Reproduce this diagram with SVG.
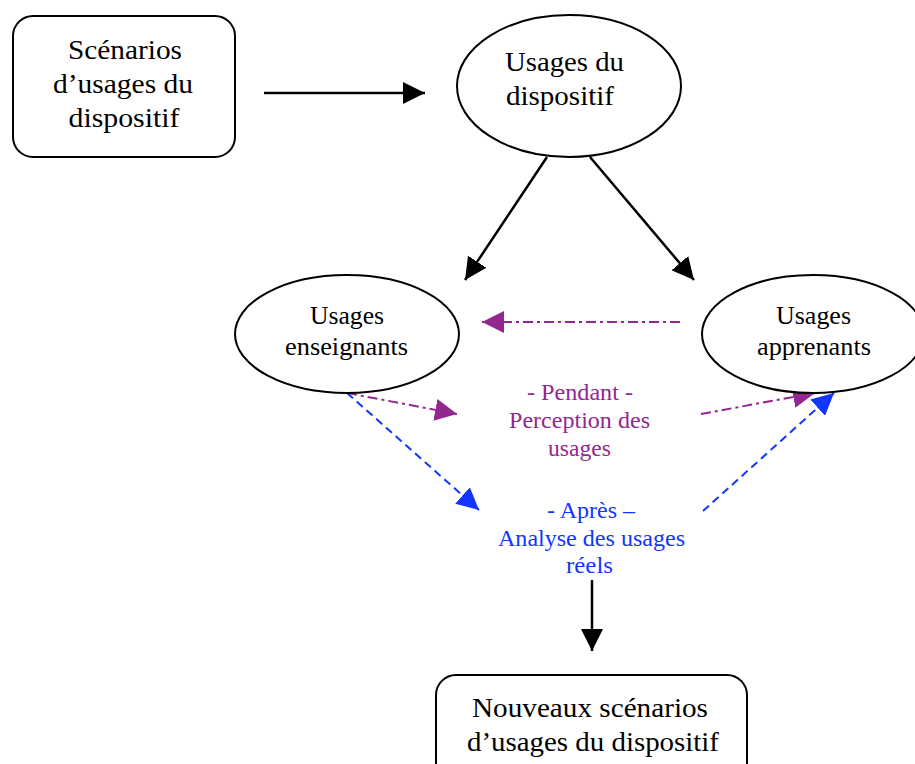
<svg xmlns="http://www.w3.org/2000/svg" width="915" height="764" viewBox="0 0 915 764">
<style>
.shape{fill:#fff;stroke:#000;stroke-width:2}
.t{font-family:"Liberation Serif","Times New Roman",serif;text-anchor:middle;fill:#000}
.big{font-size:28px}
.mid{font-size:27px}
.sm{font-size:25px}
.lab{font-size:23px}
.p{fill:#92278F}
.b{fill:#1236FF}
.blk{stroke:#000;stroke-width:2.5;fill:none}
.pur{stroke:#92278F;stroke-width:2;fill:none;stroke-dasharray:10,4,3,4}
.blu{stroke:#1236FF;stroke-width:2;fill:none;stroke-dasharray:8,5}
</style>
<defs>
<marker id="abk" viewBox="0 0 10 10" refX="10" refY="5" markerWidth="22" markerHeight="22" markerUnits="userSpaceOnUse" orient="auto"><path d="M0,0 L10,5 L0,10 z" fill="#000"/></marker>
<marker id="ap" viewBox="0 0 10 10" refX="10" refY="5" markerWidth="22" markerHeight="22" markerUnits="userSpaceOnUse" orient="auto"><path d="M0,0 L10,5 L0,10 z" fill="#92278F"/></marker>
<marker id="abl" viewBox="0 0 10 10" refX="10" refY="5" markerWidth="22" markerHeight="22" markerUnits="userSpaceOnUse" orient="auto"><path d="M0,0 L10,5 L0,10 z" fill="#1236FF"/></marker>
</defs>
<g id="connectors">
<line class="blk" x1="264" y1="93" x2="425" y2="93" marker-end="url(#abk)"/>
<line class="blk" x1="547" y1="157" x2="465" y2="280" marker-end="url(#abk)"/>
<line class="blk" x1="590" y1="157" x2="694" y2="280" marker-end="url(#abk)"/>
<line class="pur" x1="680" y1="322" x2="482" y2="322" marker-end="url(#ap)"/>
<line class="pur" x1="347" y1="393" x2="457" y2="414" marker-end="url(#ap)"/>
<line class="pur" x1="701" y1="414" x2="815" y2="393" marker-end="url(#ap)"/>
<line class="blu" x1="347" y1="393" x2="479" y2="510" marker-end="url(#abl)"/>
<line class="blu" x1="703" y1="511" x2="834" y2="393" marker-end="url(#abl)"/>
<line class="blk" x1="592" y1="580" x2="592" y2="651" marker-end="url(#abk)"/>
</g>
<g id="n-scenarios">
<rect class="shape" x="13" y="16" width="222" height="141" rx="20"/>
<text class="t big" x="125" y="59" textLength="114" lengthAdjust="spacingAndGlyphs">Scénarios</text>
<text class="t big" x="123" y="93" textLength="140" lengthAdjust="spacingAndGlyphs">d’usages du</text>
<text class="t big" x="124" y="127" textLength="111" lengthAdjust="spacingAndGlyphs">dispositif</text>
</g>
<g id="n-usages">
<ellipse class="shape" cx="569" cy="86" rx="112" ry="71"/>
<text class="t mid" x="564.5" y="71" textLength="119" lengthAdjust="spacingAndGlyphs">Usages du</text>
<text class="t mid" x="560" y="105" textLength="108" lengthAdjust="spacingAndGlyphs">dispositif</text>
</g>
<g id="n-enseignants">
<ellipse class="shape" cx="347" cy="334" rx="112" ry="59"/>
<text class="t sm" x="347" y="324" textLength="74" lengthAdjust="spacingAndGlyphs">Usages</text>
<text class="t sm" x="346.5" y="355" textLength="123" lengthAdjust="spacingAndGlyphs">enseignants</text>
</g>
<g id="n-apprenants">
<ellipse class="shape" cx="813" cy="334" rx="111" ry="59"/>
<text class="t sm" x="813.5" y="324" textLength="75" lengthAdjust="spacingAndGlyphs">Usages</text>
<text class="t sm" x="814" y="355" textLength="114" lengthAdjust="spacingAndGlyphs">apprenants</text>
</g>
<g id="l-pendant">
<text class="t lab p" x="580" y="400" textLength="106" lengthAdjust="spacingAndGlyphs">- Pendant -</text>
<text class="t lab p" x="579.5" y="428" textLength="141" lengthAdjust="spacingAndGlyphs">Perception des</text>
<text class="t lab p" x="579.5" y="456" textLength="63" lengthAdjust="spacingAndGlyphs">usages</text>
</g>
<g id="l-apres">
<text class="t lab b" x="591" y="518" textLength="88" lengthAdjust="spacingAndGlyphs">- Après –</text>
<text class="t lab b" x="591.5" y="546" textLength="187" lengthAdjust="spacingAndGlyphs">Analyse des usages</text>
<text class="t lab b" x="589.5" y="573" textLength="47" lengthAdjust="spacingAndGlyphs">réels</text>
</g>
<g id="n-nouveaux">
<rect class="shape" x="436" y="675" width="311" height="110" rx="20"/>
<text class="t big" x="590" y="717" textLength="236" lengthAdjust="spacingAndGlyphs">Nouveaux scénarios</text>
<text class="t big" x="593" y="751" textLength="252" lengthAdjust="spacingAndGlyphs">d’usages du dispositif</text>
</g>
</svg>
